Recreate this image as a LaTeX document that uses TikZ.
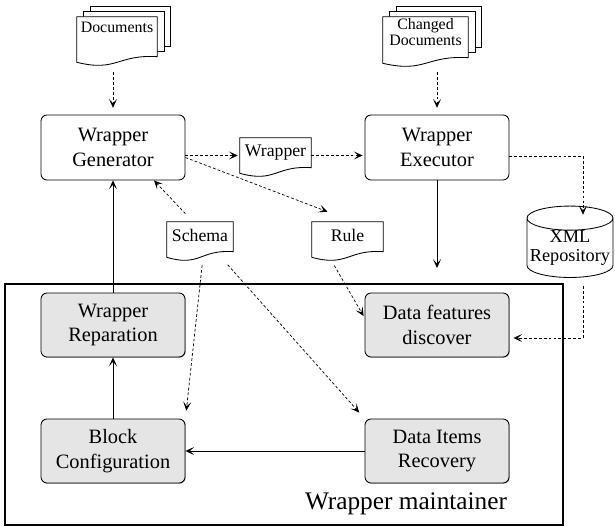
\documentclass[tikz,border=0pt]{standalone}
\usepackage{fontspec}
\setmainfont{Liberation Serif}
\usetikzlibrary{arrows.meta,shapes.geometric,backgrounds,shadows}

\newcommand\paperedge[1]{%
  \draw[paper line] (#1.south west) -- (#1.north west) -- (#1.north east)
    -- ([yshift=0.14cm]#1.south east)
    .. controls ([yshift=0.2cm]#1.south) and ([yshift=-0.25cm]#1.south) .. (#1.south west) -- cycle;}
\newcommand\paperpile[1]{%
  \foreach \k in {2,1}
    \draw[paper line] ([shift={(\k*0.17,\k*0.125)}]#1.north west)
      rectangle ([shift={(\k*0.17,\k*0.125+0.14)}]#1.south east);
  \paperedge{#1}}

\begin{document}
\begin{tikzpicture}[
    x=1cm, y=1cm,
    >={Stealth[length=2.2mm, width=2mm, inset=1.1mm]},
    link/.style={->, line width=0.5pt, draw=black},
    feed/.style={->, line width=0.5pt, draw=black, dash pattern=on 2pt off 1.5pt},
    paper line/.style={line width=0.6pt, draw=black, fill=white},
    unit/.style={
        rounded corners=1.5mm,
        draw=black,
        line width=0.6pt,
        fill=white,
        minimum width=3.6cm,
        minimum height=1.625cm,
        align=center,
        font=\fontsize{14.5}{17.5}\selectfont
    },
    part/.style={
        unit,
        minimum height=1.6cm,
        fill=black!10,
        drop shadow={shadow xshift=0.5pt, shadow yshift=-0.5pt, opacity=0.8}
    },
    paper/.style={inner sep=0pt, align=center, font=\fontsize{12.6}{13}\selectfont}
]
    \useasboundingbox (0,0) rectangle (15.375,-13.175);

    %------------------------------------------------
    % generation and execution
    %------------------------------------------------
    \node[paper, minimum width=2cm, text height=0.4cm, text depth=0.725cm,
          font=\fontsize{11.3}{12}\selectfont] (docs) at (2.925,-0.9875) {Documents};
    \node[paper, minimum width=2.125cm, text height=0.725cm, text depth=0.425cm,
          font=\fontsize{11.3}{12}\selectfont] (changed) at (10.6375,-1.0) {Changed\\Documents};

    \node[unit] (wg) at (2.825,-3.6875) {Wrapper\\Generator};
    \node[unit] (we) at (10.925,-3.6875) {Wrapper\\Executor};

    \node[paper, minimum width=1.775cm, text height=0.475cm, text depth=0.4cm] (wrp) at (6.8875,-3.8875) {Wrapper};
    \node[paper, minimum width=1.65cm, text height=0.5cm, text depth=0.375cm] (schema) at (5.0,-5.9875) {Schema};
    \node[paper, minimum width=1.775cm, text height=0.5cm, text depth=0.375cm] (rule) at (8.6875,-5.9875) {Rule};

    \node[cylinder, shape border rotate=90, aspect=0.3, draw, line width=0.6pt, fill=white,
          minimum width=2.15cm, minimum height=1.75cm, inner sep=0pt, align=center,
          font=\fontsize{13}{13.5}\selectfont] (xml) at (14.25,-6.2) {XML\\Repository};

    \coordinate (weout) at (10.925,-6.7);

    \begin{scope}[on background layer]
        \paperpile{docs}
        \paperpile{changed}
        \paperedge{wrp}
        \paperedge{schema}
        \paperedge{rule}
    \end{scope}

    %------------------------------------------------
    % wrapper maintainer
    %------------------------------------------------
    \node[draw, line width=1.5pt, minimum width=13.95cm, minimum height=6.025cm] (frame) at (7.1,-10.1125) {};

    \node[part] (wr)  at (2.825,-8.125)  {Wrapper\\Reparation};
    \node[part] (dfd) at (10.925,-8.125) {Data features\\discover};
    \node[part] (bc)  at (2.825,-11.275) {Block\\Configuration};
    \node[part] (dir) at (10.925,-11.275) {Data Items\\Recovery};

    \node[anchor=base east, font=\fontsize{18}{20}\selectfont] (maint) at (12.8,-12.75) {Wrapper maintainer};

    % connectors
    \draw[feed, shorten <=0.25cm, shorten >=0.17cm] (docs.south -| wg.north) -- (wg.north);
    \draw[feed, shorten <=0.22cm, shorten >=0.17cm] (changed.south -| we.north) -- (we.north);
    \draw[feed, shorten >=0.05cm] (wg.east |- wrp.west) -- (wrp.west);
    \draw[feed, shorten >=0.05cm] (wrp.east) -- (we.west |- wrp.east);
    \draw[feed] ([yshift=-0.25cm]wg.east) -- ([xshift=-0.5cm,yshift=0.25cm]rule.north);
    \draw[feed, shorten <=0.275cm] ([xshift=-0.175cm]schema.north) -- ([xshift=1.025cm]wg.south);
    \draw[feed, shorten <=0.2cm, shorten >=0.2cm] ([xshift=0.075cm]schema.south) -- (bc.north east);
    \draw[feed, shorten <=0.25cm, shorten >=0.2cm] ([xshift=0.525cm]schema.south) -- (dir.north west);
    \draw[feed, shorten <=0.24cm, shorten >=0.05cm] ([xshift=-0.45cm]rule.south) -- ([yshift=0.18cm]dfd.west);
    \draw[feed, shorten >=0.05cm] ([yshift=-0.2125cm]we.east) -| ([xshift=0.325cm,yshift=-0.275cm]xml.north);
    \draw[feed, shorten <=0.2cm, shorten >=0.1cm] ([xshift=0.325cm]xml.south) |- ([yshift=-0.325cm]dfd.east);

    \draw[link] (we.south) -- (weout);
    \draw[link] (wr.north) -- (wg.south);
    \draw[link] (bc.north) -- (wr.south);
    \draw[link] (dir.west) -- (bc.east);

\end{tikzpicture}
\end{document}
